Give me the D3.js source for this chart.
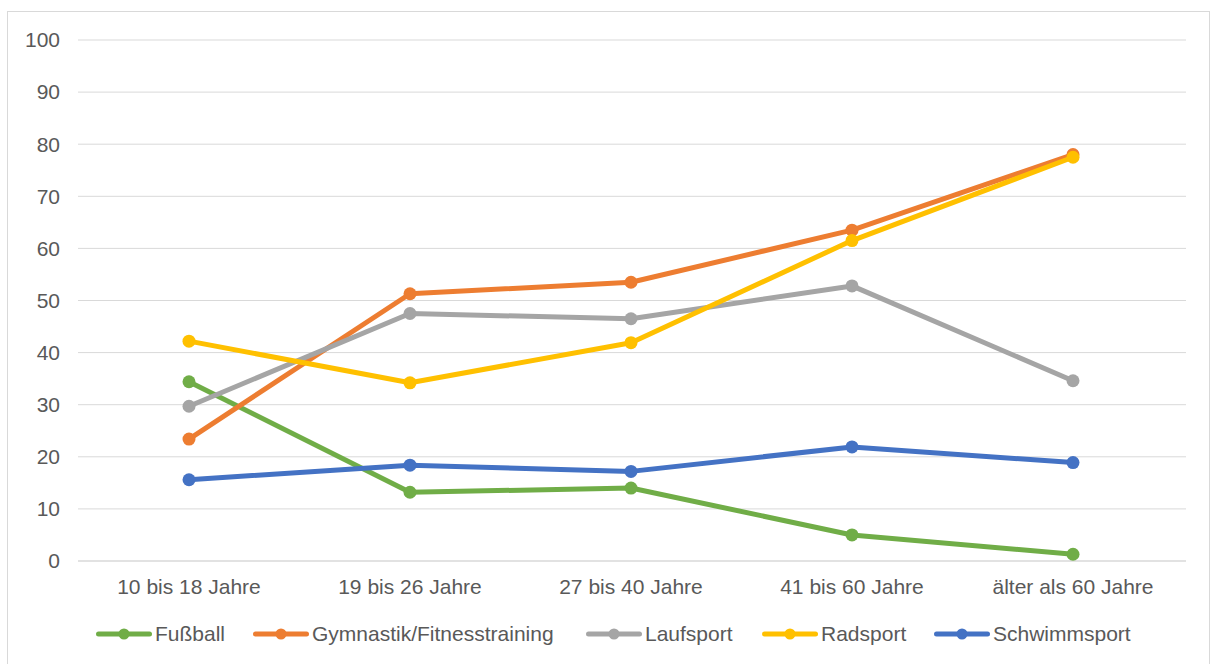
<!DOCTYPE html>
<html>
<head>
<meta charset="utf-8">
<style>
  body { margin: 0; background: #fff; }
  svg text { font-family: "Liberation Sans", Arial, sans-serif; fill: #595959; }
</style>
</head>
<body>
<svg id="chart"></svg>
<script src="https://d3js.org/d3.v7.min.js"></script>
<script>
var categories = ["10 bis 18 Jahre", "19 bis 26 Jahre", "27 bis 40 Jahre", "41 bis 60 Jahre", "älter als 60 Jahre"];
var yTicks = [0, 10, 20, 30, 40, 50, 60, 70, 80, 90, 100];

var fussball = [34.4, 13.2, 14.0, 5.0, 1.3];
var gymnastik = [23.4, 51.3, 53.5, 63.5, 78.0];
var laufsport = [29.7, 47.5, 46.5, 52.8, 34.6];
var radsport = [42.2, 34.2, 41.9, 61.5, 77.5];
var schwimmsport = [15.6, 18.4, 17.2, 21.9, 18.9];

var seriesNames = ["Fußball", "Gymnastik/Fitnesstraining", "Laufsport", "Radsport", "Schwimmsport"];
var seriesColors = ["#70AD47", "#ED7D31", "#A5A5A5", "#FFC000", "#4472C4"];
var seriesValues = [fussball, gymnastik, laufsport, radsport, schwimmsport];

var width = 1212, height = 664;
var fontSize = 21;
var svg = d3.select("#chart").attr("width", width).attr("height", height);

// chart border
svg.append("rect")
  .attr("x", 7.5).attr("y", 11.5)
  .attr("width", 1202).attr("height", 660)
  .attr("fill", "none").attr("stroke", "#d9d9d9");

var x = d3.scalePoint().domain(categories).range([189, 1073]);
var y = d3.scaleLinear().domain([0, 100]).range([561, 40]);

// gridlines
svg.append("g").selectAll("line")
  .data(yTicks)
  .enter().append("line")
    .attr("x1", 78).attr("x2", 1186)
    .attr("y1", d => y(d)).attr("y2", d => y(d))
    .attr("stroke", "#d9d9d9")
    .attr("stroke-width", d => d === 0 ? 1.5 : 1);

// y labels
svg.append("g").selectAll("text")
  .data(yTicks)
  .enter().append("text")
    .attr("x", 60).attr("y", d => y(d))
    .attr("dy", "0.35em")
    .attr("text-anchor", "end")
    .attr("font-size", fontSize)
    .text(d => d);

// x labels
svg.append("g").selectAll("text")
  .data(categories)
  .enter().append("text")
    .attr("x", d => x(d)).attr("y", 594)
    .attr("text-anchor", "middle")
    .attr("font-size", fontSize)
    .text(d => d);

var line = d3.line()
  .x((d, i) => x(categories[i]))
  .y(d => y(d));

seriesValues.forEach(function(vals, s) {
  var g = svg.append("g");
  g.append("path")
    .datum(vals)
    .attr("d", line)
    .attr("fill", "none")
    .attr("stroke", seriesColors[s])
    .attr("stroke-width", 5)
    .attr("stroke-linejoin", "round")
    .attr("stroke-linecap", "round");
  g.selectAll("circle")
    .data(vals)
    .enter().append("circle")
      .attr("cx", (d, i) => x(categories[i]))
      .attr("cy", d => y(d))
      .attr("r", 6.5)
      .attr("fill", seriesColors[s]);
});

// legend
var legendX = [96, 253, 586, 762, 934];
var legend = svg.append("g").selectAll("g")
  .data(seriesNames)
  .enter().append("g")
    .attr("transform", (d, i) => `translate(${legendX[i]},634)`);
legend.append("line")
  .attr("x1", 2.5).attr("x2", 53.5)
  .attr("stroke", (d, i) => seriesColors[i])
  .attr("stroke-width", 5)
  .attr("stroke-linecap", "round");
legend.append("circle")
  .attr("cx", 28).attr("r", 5.5)
  .attr("fill", (d, i) => seriesColors[i]);
legend.append("text")
  .attr("x", 59).attr("dy", "0.35em")
  .attr("font-size", fontSize)
  .text(d => d);
</script>
</body>
</html>
